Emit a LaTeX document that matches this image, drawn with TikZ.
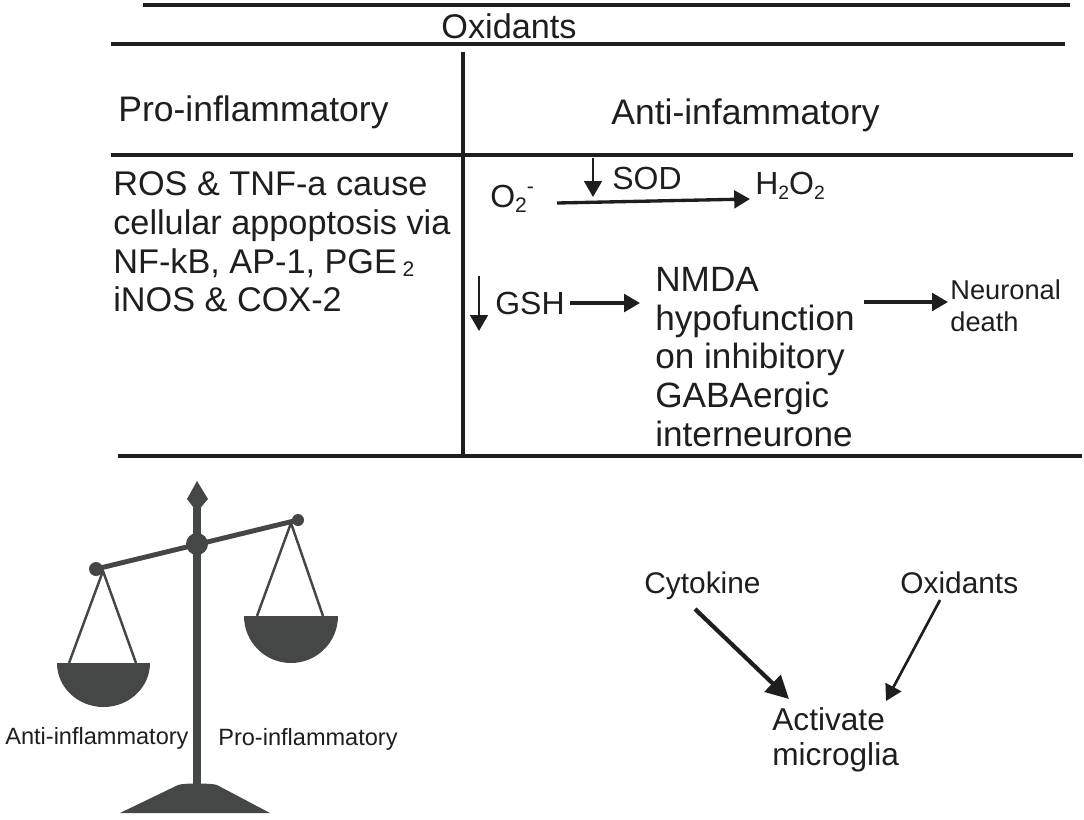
\documentclass[tikz,border=0pt]{standalone}
\usepackage{xcolor}
\usepackage{fontspec}
\setmainfont{Liberation Sans}
\usetikzlibrary{arrows.meta, positioning, calc}
\definecolor{scalegrey}{RGB}{69, 71, 70}
\definecolor{inkblack}{RGB}{30, 30, 30}

\begin{document}
\begin{tikzpicture}[
    x=0.02cm, y=-0.02cm,
    big/.style={inner sep=0pt, anchor=west, align=left, text=inkblack, font=\fontsize{19.5}{22}\selectfont},
    head/.style={big, font=\fontsize{20.2}{22}\selectfont},
    chem/.style={big, font=\fontsize{18.2}{22}\selectfont},
    mid/.style={inner sep=0pt, anchor=west, align=left, text=inkblack, font=\fontsize{17}{20}\selectfont},
    small/.style={inner sep=0pt, anchor=west, align=left, text=inkblack, font=\fontsize{13.4}{15}\selectfont},
    rule/.style={line width=2.1pt, inkblack},
    arrow/.style={-{Triangle[length=9pt, width=10pt]}, line width=1.9pt, inkblack},
    thinarrow/.style={-{Triangle[length=9pt, width=10pt]}, line width=1.3pt, inkblack},
    string/.style={line width=1.4pt, scalegrey},
    metal/.style={fill=scalegrey, draw=none}
]
\useasboundingbox (0,0) rectangle (1084,819);

% table
\coordinate (topL) at (143,5);
\coordinate (topR) at (1070,5);
\coordinate (headL) at (111,44);
\coordinate (headR) at (1065,44);
\coordinate (midL) at (111,155);
\coordinate (midR) at (1073,155);
\coordinate (botL) at (118,456);
\coordinate (botR) at (1082,456);
\coordinate (colT) at (463,52);
\coordinate (colB) at (463,456);
\draw[rule] (topL) -- (topR);
\draw[rule] (headL) -- (headR);
\draw[rule] (midL) -- (midR);
\draw[rule] (botL) -- (botR);
\draw[rule] (colT) -- (colB);

\node[big] (oxid) at (441,26) {Oxidants};
\node[head] (pro) at (118,112) {Pro-inflammatory};
\node[head] (anti) at (611,115) {Anti-infammatory};
\node[big] (ros) at (113,242) {ROS \& TNF-a cause\\cellular appoptosis via\\NF-kB, AP-1, PGE\,{\fontsize{12}{12}\selectfont\raisebox{-2pt}{2}}\\iNOS \& COX-2};

\node[chem] (o2) at (490,199) {O\raisebox{-3pt}{\fontsize{12}{12}\selectfont 2}\raisebox{8pt}{\fontsize{12}{12}\selectfont -}};
\node[chem] (sod) at (612,178) {SOD};
\node[chem] (h2o2) at (755,186) {H\raisebox{-3pt}{\fontsize{11}{11}\selectfont 2}O\raisebox{-3pt}{\fontsize{11}{11}\selectfont 2}};
\node[chem] (gsh) at (495,303) {GSH};
\node[big, font=\fontsize{20}{22}\selectfont] (nmda) at (655,357) {NMDA\\hypofunction\\on inhibitory\\GABAergic\\interneurone};
\node[small, font=\fontsize{15.5}{18}\selectfont] (death) at (950,306) {Neuronal\\death};

\coordinate (sodT) at (593,158);
\coordinate (sodB) at (593,197);
\coordinate (gshT) at (479,276);
\coordinate (gshB) at (479,331);
\coordinate (o2E) at (557,203);
\coordinate (h2W) at (750,199);
\coordinate (gshE) at (570,303);
\coordinate (nmdaW) at (640,303);
\coordinate (nmdaE) at (864,302);
\coordinate (deathW) at (948,302);
\draw[thinarrow] (sodT) -- (sodB);
\draw[thinarrow] (gshT) -- (gshB);
\draw[arrow] (o2E) -- (h2W);
\draw[arrow] (gshE) -- (nmdaW);
\draw[arrow] (nmdaE) -- (deathW);

% balance
\fill[metal] (197,481) -- (208,499) -- (197,512) -- (187,499) -- cycle;
\fill[metal] (193,505) rectangle (201,785);
\fill[metal] (120,813) -- (178,785) .. controls (182,783) and (212,783) .. (217,785) -- (270,813) -- cycle;
\draw[scalegrey, line width=2.8pt] (96,569) -- (298,520);
\fill[metal] (197,544) circle (11);
\fill[metal] (96,569) circle (7);
\fill[metal] (298,520) circle (6);
\draw[string] (69,663) -- (103,571) -- (136,663);
\draw[string] (257,616) -- (291,523) -- (323,616);
\fill[metal] (57,663) arc[start angle=180, end angle=0, x radius=46.5, y radius=44] -- cycle;
\fill[metal] (244,616) arc[start angle=180, end angle=0, x radius=47, y radius=47] -- cycle;
\node[small] (antiS) at (5,738) {Anti-inflammatory};
\node[small] (proS) at (218,739) {Pro-inflammatory};

% microglia
\node[mid] (cyto) at (644,586) {Cytokine};
\node[mid] (oxidS) at (900,583) {Oxidants};
\node[mid, font=\fontsize{18}{20}\selectfont] (micro) at (772,740) {Activate\\microglia};
\coordinate (cytoE) at (695,609);
\coordinate (microA) at (789,699);
\coordinate (oxidE) at (940,600);
\coordinate (microB) at (886,701);
\draw[line width=2.4pt, inkblack, -{Triangle[length=13pt, width=13pt]}] (cytoE) -- (microA);
\draw[line width=1.5pt, inkblack, -{Triangle[length=9pt, width=10pt]}] (oxidE) -- (microB);
\end{tikzpicture}
\end{document}
